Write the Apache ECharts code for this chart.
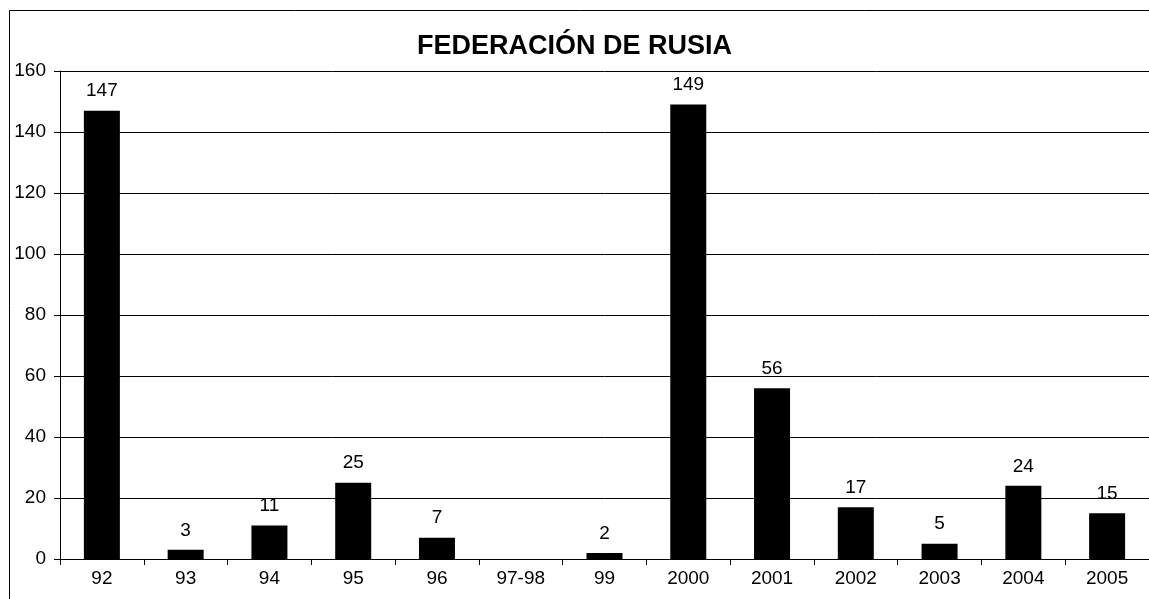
<!DOCTYPE html>
<html><head><meta charset="utf-8">
<script src="https://cdn.jsdelivr.net/npm/echarts@6/dist/echarts.min.js"></script>
<style>html,body{margin:0;padding:0;background:#fff}#c{width:1149px;height:599px}</style>
</head><body><div id="c"></div>
<script>
const categories = ['92','93','94','95','96','97-98','99','2000','2001','2002','2003','2004','2005'];
const values = [147,3,11,25,7,0,2,149,56,17,5,24,15];
const yTicks = [0,20,40,60,80,100,120,140,160];
const titleText = 'FEDERACIÓN DE RUSIA';

const chart = echarts.init(document.getElementById('c'), null, {renderer:'canvas'});
const font = 'Liberation Sans, Arial, sans-serif';
chart.setOption({
  animation:false,
  backgroundColor:'#fff',
  title:{text:titleText,left:'center',top:28,textStyle:{fontFamily:font,fontSize:27,fontWeight:'bold',color:'#000'}},
  graphic:[{type:'rect',shape:{x:9.5,y:10.5,width:1200,height:700},style:{fill:'none',stroke:'#000',lineWidth:1}}],
  grid:{left:60,right:-1,top:71,bottom:40,containLabel:false},
  xAxis:{type:'category',data:categories,
    axisLine:{lineStyle:{color:'#000',width:1}},
    axisTick:{show:true,length:6,lineStyle:{color:'#000'},alignWithLabel:false},
    axisLabel:{fontFamily:font,fontSize:19,color:'#000',margin:10}},
  yAxis:{type:'value',min:0,max:160,interval:20,
    axisLine:{show:true,lineStyle:{color:'#000',width:1}},
    axisTick:{show:true,length:6,lineStyle:{color:'#000'}},
    axisLabel:{fontFamily:font,fontSize:19,color:'#000',margin:14},
    splitLine:{show:true,lineStyle:{color:'#000',width:1}}},
  series:[{type:'bar',data:values,barWidth:36,itemStyle:{color:'#000'},
    label:{show:true,position:'top',distance:10,fontFamily:font,fontSize:19,color:'#000',
      formatter:p=>p.value===0?'':String(p.value)}}]
});
</script></body></html>
